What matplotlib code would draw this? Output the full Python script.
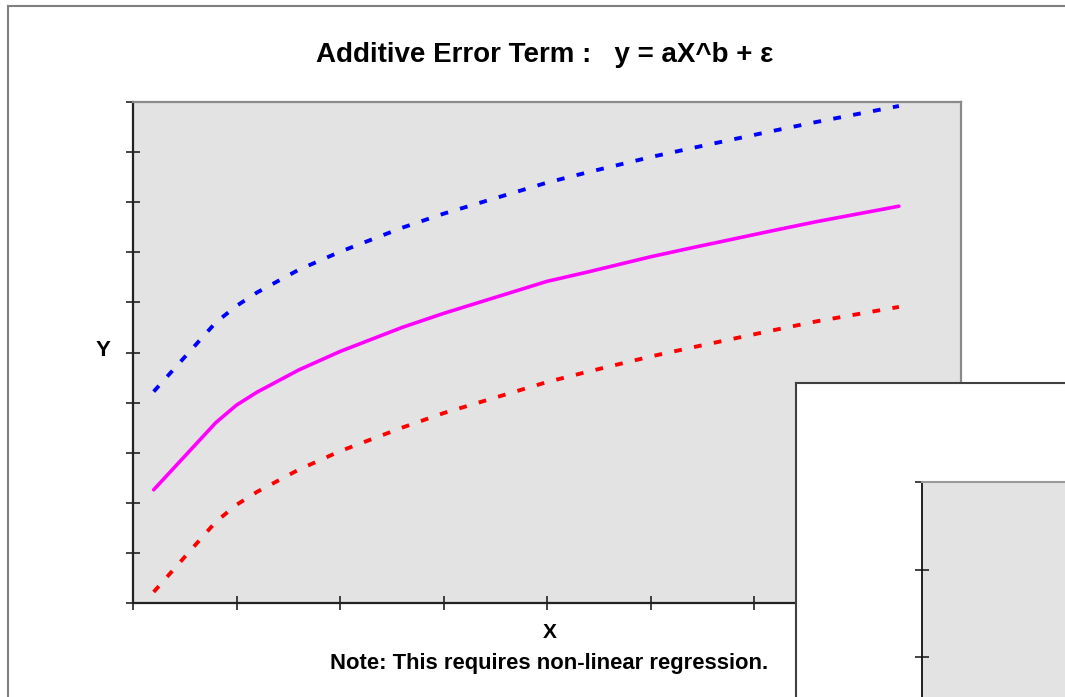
import matplotlib
matplotlib.use("Agg")
import matplotlib.pyplot as plt

plt.rcParams['font.family'] = ['Liberation Sans', 'DejaVu Sans']

# values (x axis 0..40, y axis 0..10)
x_vals = [1, 4, 5, 6, 8, 10, 13, 15, 20, 22, 25, 27, 31, 33, 37]
fit_y = [2.26, 3.60, 3.95, 4.21, 4.65, 5.02, 5.50, 5.78, 6.42, 6.61, 6.91, 7.09, 7.44, 7.61, 7.92]
upper_y = [4.22, 5.60, 5.93, 6.20, 6.65, 7.01, 7.49, 7.77, 8.39, 8.60, 8.90, 9.08, 9.43, 9.60, 9.92]
lower_y = [0.22, 1.62, 1.96, 2.22, 2.66, 3.03, 3.50, 3.79, 4.41, 4.62, 4.92, 5.10, 5.45, 5.62, 5.91]

W, H = 1065, 697


def fx(px):
    return px / W


def fy(py):
    return 1 - py / H


fig = plt.figure(figsize=(W / 100, H / 100), dpi=100)
fig.patch.set_facecolor('white')

# outer chart frame (runs off the right and bottom edges)
fig.add_artist(plt.Line2D([fx(7.7), 1.01], [fy(5.7), fy(5.7)], color='#808080', lw=1.5,
                          transform=fig.transFigure))
fig.add_artist(plt.Line2D([fx(7.7), fx(7.7)], [fy(5.7), -0.01], color='#808080', lw=1.5,
                          transform=fig.transFigure))

ax = fig.add_axes([fx(133), fy(603), fx(961) - fx(133), fy(102) - fy(603)])
ax.set_facecolor('#e3e3e3')
ax.plot(x_vals, upper_y, color='#0000ff', lw=2.8, dashes=(2.0, 3.2))
ax.plot(x_vals, fit_y, color='#ff00ff', lw=2.6, solid_capstyle='round')
ax.plot(x_vals, lower_y, color='#ff0000', lw=2.8, dashes=(2.0, 3.2))
ax.set_xlim(0, 40)
ax.set_ylim(0, 10)
ax.set_xticks(range(0, 41, 5))
ax.set_yticks(range(0, 11))
ax.tick_params(direction='inout', length=10, width=1.1, color='#111111',
               labelbottom=False, labelleft=False)
for s in ['left', 'bottom']:
    ax.spines[s].set_color('#222222')
    ax.spines[s].set_linewidth(1.6)
for s in ['top', 'right']:
    ax.spines[s].set_color('#8a8a8a')
    ax.spines[s].set_linewidth(1.6)

fig.text(fx(545), fy(61.7), 'Additive Error Term :   y = aX^b + ε', ha='center', va='baseline',
         fontsize=20, fontweight='bold')
fig.text(fx(103), fy(350), 'Y', ha='center', va='center', fontsize=16, fontweight='bold')
fig.text(fx(549.5), fy(638), 'X', ha='center', va='baseline', fontsize=15, fontweight='bold')
fig.text(fx(549), fy(669), 'Note: This requires non-linear regression.', ha='center',
         va='baseline', fontsize=15.8, fontweight='bold')

# second chart overlapping the bottom-right corner
box = fig.add_axes([fx(795.7), -0.2, 0.5, fy(383.3) + 0.2])
box.set_facecolor('white')
box.set_xticks([])
box.set_yticks([])
for s in box.spines.values():
    s.set_color('#404040')
    s.set_linewidth(1.5)
box.set_zorder(1)

ax2 = fig.add_axes([fx(921.7), fy(482.3 + 87.3 * 5), 0.5, fy(482.3) - fy(482.3 + 87.3 * 5)])
ax2.set_facecolor('#e3e3e3')
ax2.set_ylim(0, 5)
ax2.set_yticks(range(0, 6))
ax2.set_xticks([])
ax2.tick_params(direction='inout', length=10, width=1.1, color='#111111', labelleft=False)
ax2.spines['left'].set_color('#111111')
ax2.spines['left'].set_linewidth(1.3)
ax2.spines['top'].set_color('#9a9a9a')
ax2.spines['top'].set_linewidth(1.5)
ax2.set_zorder(2)

fig.savefig('out.png', dpi=100)
